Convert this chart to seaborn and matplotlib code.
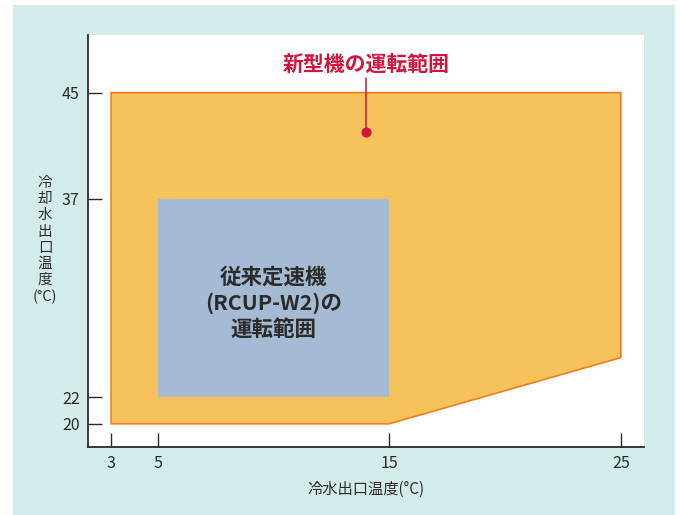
import matplotlib
matplotlib.use("Agg")
import matplotlib.pyplot as plt
import seaborn as sns
import pandas as pd
from matplotlib.patches import Polygon, Rectangle

sns.set_theme(style="ticks")
plt.rcParams['font.family'] = ['Noto Sans CJK JP', 'DejaVu Sans']

# Data
new_x = [3, 3, 25, 25, 15]
new_y = [20, 45, 45, 25, 20]
old_x = [5, 15]
old_y = [22, 37]
x_ticks = [3, 5, 15, 25]
y_ticks = [20, 22, 37, 45]
marker_pt = pd.DataFrame({"x": [14], "y": [42]})
new_label = "新型機の運転範囲"
old_label = "従来定速機\n(RCUP-W2)の\n運転範囲"
xlabel = "冷水出口温度(°C)"
ylabel = "冷\n却\n水\n出\n口\n温\n度\n(°C)"

TEAL = "#d4ebeb"
ORANGE = "#f7c15c"
ORANGE_EDGE = "#f07d1c"
BLUE = "#a4bbd3"
RED = "#d3143c"
TXT = "#2b2b2b"

fig = plt.figure(figsize=(6.8, 5.15), dpi=100)
fig.patch.set_facecolor("white")
fig.patches.append(Rectangle((13/680, 0), (675-13)/680, 1-5/515,
                             transform=fig.transFigure, facecolor=TEAL,
                             edgecolor="none", zorder=-10))

ax = fig.add_axes([88/680, 1-447/515, (644-88)/680, (447-35)/515])
ax.set_facecolor("white")

ax.add_patch(Polygon(list(zip(new_x, new_y)), closed=True, facecolor=ORANGE,
                     edgecolor=ORANGE_EDGE, linewidth=1.2, zorder=1))
ax.add_patch(Rectangle((old_x[0], old_y[0]), old_x[1]-old_x[0], old_y[1]-old_y[0],
                       facecolor=BLUE, edgecolor="none", zorder=2))

ax.text((old_x[0]+old_x[1])/2, 29.1, old_label,
        ha="center", va="center", fontsize=15.5, color=TXT,
        fontweight="semibold", linespacing=1.3, zorder=3)

# annotation marker
ax.plot([14, 14], [42, 46.1], color=RED, linewidth=1.1, zorder=3)
sns.scatterplot(data=marker_pt, x="x", y="y", ax=ax, color=RED, s=45,
                edgecolor=RED, zorder=4, legend=False)
ax.text(14, 47.15, new_label, ha="center", va="center", fontsize=15,
        color=RED, fontweight="semibold", zorder=4)

ax.set_xlim(2.0, 26.0)
ax.set_ylim(18.25, 49.35)
ax.set_xticks(x_ticks)
ax.set_yticks(y_ticks)
ax.tick_params(direction="in", length=10, width=1, color=TXT, labelsize=11.5,
               labelcolor=TXT, pad=6)
for s in ["top", "right"]:
    ax.spines[s].set_visible(False)
for s in ["left", "bottom"]:
    ax.spines[s].set_color(TXT)
    ax.spines[s].set_linewidth(1.3)

ax.set_xlabel("")
ax.set_ylabel("")
fig.text(366/680, 1-489/515, xlabel, ha="center", va="center",
         fontsize=11, color=TXT)
fig.text(45/680, 1-240/515, ylabel, ha="center", va="center",
         fontsize=10.5, color=TXT, linespacing=1.2)

fig.savefig("out.png", dpi=100)
